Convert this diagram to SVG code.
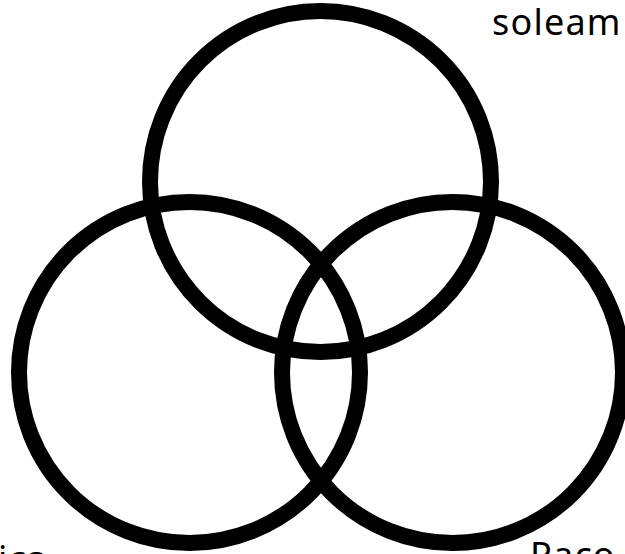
<svg xmlns="http://www.w3.org/2000/svg" width="625" height="554" viewBox="0 0 625 554">
<style>
.c{fill:none;stroke:#000;stroke-width:16}
.t{font-family:"Noto Sans","Open Sans",sans-serif;font-size:36px;fill:#000;letter-spacing:1.2px}
</style>
<rect width="625" height="554" fill="#fff"/>
<g id="top"><circle class="c" cx="320.5" cy="181.5" r="170.5"/></g>
<g id="left"><circle class="c" cx="189.5" cy="372.5" r="170.5"/></g>
<g id="right"><circle class="c" cx="452.5" cy="372.5" r="170.5"/></g>
<g id="labels">
<text class="t" x="492" y="35">soleam</text>
<text class="t" x="-2" y="572">ics</text>
<text class="t" x="530" y="568">Paco</text>
</g>
</svg>
